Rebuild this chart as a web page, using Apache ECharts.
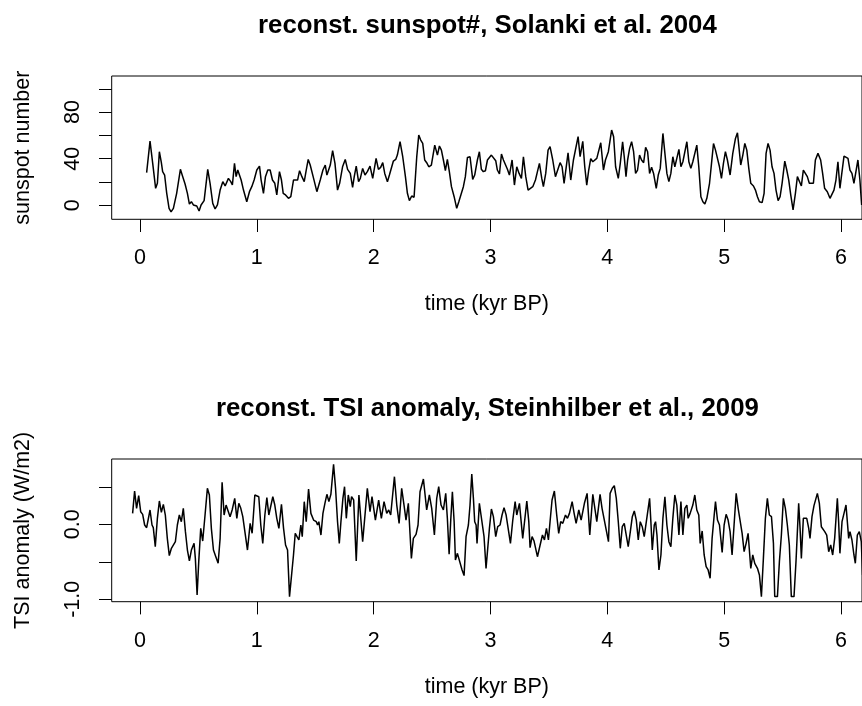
<!DOCTYPE html>
<html><head><meta charset="utf-8">
<script src="https://cdn.jsdelivr.net/npm/echarts@6/dist/echarts.min.js"></script>
<style>html,body{margin:0;padding:0;background:#fff}#c{width:862px;height:706px}</style>
</head><body><div id="c"></div>
<script>
const xTicks = [0, 1, 2, 3, 4, 5, 6];
const sunspotTicks = [0, 20, 40, 60, 80, 100];
const sunspotLabels = [0, 40, 80];
const tsiTicks = [-1, -0.5, 0, 0.5];
const tsiLabels = [-1, 0];
const titles = ['reconst. sunspot#, Solanki et al. 2004', 'reconst. TSI anomaly, Steinhilber et al., 2009'];

// [time (kyr BP), sunspot number]
const sunspot = [[0.057,28.0],[0.066,26.9],[0.086,55.1],[0.109,36.0],[0.134,14.6],[0.149,18.9],[0.166,46.0],[0.183,36.6],[0.194,28.9],[0.211,26.0],[0.229,10.3],[0.249,-2.6],[0.266,-5.7],[0.286,-2.6],[0.314,10.3],[0.346,30.9],[0.366,24.6],[0.386,18.3],[0.406,10.3],[0.423,1.1],[0.440,3.1],[0.457,0.3],[0.486,-0.6],[0.506,-4.9],[0.523,0.3],[0.549,4.0],[0.580,30.9],[0.600,18.9],[0.623,1.7],[0.643,-3.1],[0.663,0.3],[0.686,13.1],[0.709,20.3],[0.729,16.6],[0.757,23.1],[0.777,20.3],[0.791,17.4],[0.809,36.0],[0.823,24.6],[0.837,30.3],[0.851,30.9],[0.866,21.7],[0.886,13.1],[0.914,3.1],[0.937,11.7],[0.957,16.0],[0.977,21.7],[1.000,30.3],[1.023,33.7],[1.037,21.7],[1.057,10.3],[1.074,24.6],[1.094,30.3],[1.114,30.3],[1.134,21.7],[1.154,18.9],[1.171,8.9],[1.194,28.9],[1.211,21.7],[1.226,10.3],[1.246,8.9],[1.271,6.0],[1.291,7.4],[1.314,21.7],[1.331,23.1],[1.349,21.7],[1.366,29.7],[1.386,24.6],[1.406,20.3],[1.423,30.3],[1.440,39.4],[1.457,34.6],[1.486,23.1],[1.514,11.7],[1.543,21.7],[1.566,30.3],[1.586,34.6],[1.600,26.0],[1.617,24.6],[1.629,34.6],[1.649,46.9],[1.669,36.0],[1.691,13.1],[1.709,18.9],[1.734,33.1],[1.757,39.4],[1.777,30.9],[1.800,27.4],[1.820,15.4],[1.834,24.6],[1.851,33.7],[1.871,20.3],[1.886,23.1],
[1.906,31.7],[1.926,26.0],[1.946,28.9],[1.969,33.7],[1.992,23.1],[2.021,40.3],[2.041,30.9],[2.060,32.6],[2.078,36.6],[2.095,27.4],[2.118,20.3],[2.135,26.0],[2.152,24.6],[2.169,38.0],[2.189,39.4],[2.203,43.1],[2.226,54.6],[2.249,41.7],[2.272,24.6],[2.289,10.3],[2.306,4.0],[2.326,8.0],[2.346,6.9],[2.369,41.7],[2.386,60.3],[2.403,56.0],[2.420,53.1],[2.437,38.9],[2.454,36.6],[2.472,33.1],[2.494,34.6],[2.523,51.7],[2.546,43.1],[2.563,50.9],[2.580,47.4],[2.597,38.9],[2.614,29.7],[2.631,39.4],[2.648,28.9],[2.666,16.0],[2.689,7.4],[2.711,-2.6],[2.729,3.1],[2.746,1.7],[2.768,16.0],[2.785,24.6],[2.803,41.1],[2.825,41.7],[2.848,22.3],[2.865,26.0],[2.888,38.9],[2.905,46.0],[2.922,30.9],[2.939,28.9],[2.957,29.7],[2.974,38.9],[2.991,41.1],[3.008,43.1],[3.025,41.7],[3.045,38.3],[3.059,30.3],[3.077,26.9],[3.094,44.0],[3.111,38.9],[3.128,40.3],[3.145,30.9],[3.162,26.0],[3.185,38.9],[3.205,17.4],[3.225,33.1],[3.245,27.4],[3.265,23.1],[3.282,41.7],[3.302,24.6],[3.322,13.1],[3.339,13.1],[3.362,16.0],[3.385,21.7],[3.402,28.9],[3.419,36.0],[3.439,23.1],[3.453,16.0],[3.473,27.4],[3.493,47.4],[3.510,50.3],[3.533,38.9],[3.556,24.6],[3.573,26.0],[3.596,36.6],[3.613,33.1],[3.630,18.9],[3.647,31.7],[3.664,45.1],[3.687,21.7],[3.710,38.9],[3.727,38.9],[3.750,58.9],[3.767,41.7],[3.790,54.9],[3.807,33.1],[3.824,17.4],[3.841,30.3],[3.858,40.0],[3.876,37.4],[3.893,36.6],[3.910,40.3],[3.927,40.3],[3.944,53.7],[3.967,30.3],[3.984,38.9],
[4.009,46.0],[4.037,64.6],[4.054,58.9],[4.071,33.1],[4.094,23.1],[4.111,36.0],[4.131,54.6],[4.145,41.7],[4.160,24.6],[4.174,38.9],[4.191,48.9],[4.208,54.6],[4.225,46.0],[4.242,27.4],[4.259,30.3],[4.276,43.1],[4.293,38.9],[4.311,36.6],[4.328,49.7],[4.345,46.0],[4.362,27.4],[4.379,32.6],[4.396,27.4],[4.419,14.6],[4.436,26.0],[4.453,31.7],[4.476,61.7],[4.493,44.6],[4.510,27.4],[4.527,20.3],[4.544,27.4],[4.561,41.7],[4.578,33.1],[4.595,40.3],[4.613,48.0],[4.630,33.1],[4.647,37.4],[4.664,37.4],[4.681,54.6],[4.698,37.4],[4.715,31.7],[4.732,37.4],[4.749,38.9],[4.766,51.7],[4.783,33.1],[4.801,7.4],[4.818,3.1],[4.835,1.1],[4.852,6.0],[4.875,18.9],[4.892,36.0],[4.909,53.1],[4.926,47.4],[4.943,46.0],[4.960,33.1],[4.977,23.1],[4.994,36.0],[5.011,46.0],[5.028,38.9],[5.051,26.0],[5.074,44.6],[5.097,57.4],[5.114,62.3],[5.125,51.7],[5.142,34.6],[5.160,43.1],[5.177,53.1],[5.194,47.4],[5.211,31.7],[5.228,18.9],[5.251,16.6],[5.268,13.1],[5.285,7.4],[5.302,3.1],[5.325,2.3],[5.342,10.3],[5.359,44.6],[5.376,53.1],[5.393,47.4],[5.410,33.1],[5.427,27.4],[5.444,13.1],[5.462,4.0],[5.479,7.4],[5.496,18.9],[5.519,38.0],[5.536,30.3],[5.553,21.7],[5.570,8.9],[5.590,-4.0],[5.610,10.3],[5.627,24.6],[5.644,26.0],[5.661,16.6],[5.678,30.3],[5.695,31.7],[5.712,24.6],[5.729,18.9],[5.746,17.4],[5.764,18.9],[5.781,38.9],[5.803,44.6],[5.826,38.9],[5.843,27.4],[5.860,14.6],[5.883,11.7],[5.906,6.0],[5.923,7.4],[5.940,13.1],[5.957,21.7],[5.974,37.4],[5.991,14.6],[6.009,28.9],[6.026,42.3],[6.043,42.3],[6.060,40.3],[6.077,30.3],[6.094,27.4],[6.111,18.9],[6.128,17.4],[6.145,38.9],[6.162,21.7],[6.177,0.3]];

// [time (kyr BP), TSI anomaly (W/m2)]
const tsi = [[-0.063,0.146],[-0.046,0.444],[-0.029,0.213],[-0.011,0.382],[0.006,0.168],[0.023,0.133],[0.040,-0.009],[0.057,-0.045],[0.069,-0.032],[0.086,0.191],[0.103,-0.009],[0.114,-0.045],[0.131,-0.298],[0.149,0.080],[0.166,0.311],[0.183,0.160],[0.200,0.266],[0.217,0.124],[0.234,-0.187],[0.251,-0.418],[0.269,-0.320],[0.286,-0.329],[0.303,-0.232],[0.320,-0.009],[0.337,0.124],[0.354,0.035],[0.371,0.213],[0.389,-0.098],[0.406,-0.343],[0.423,-0.489],[0.440,-0.343],[0.463,-0.254],[0.474,-0.454],[0.489,-0.942],[0.503,-0.498],[0.520,-0.054],[0.537,-0.223],[0.557,0.124],[0.577,0.480],[0.594,0.391],[0.611,-0.054],[0.629,-0.343],[0.646,-0.418],[0.669,-0.520],[0.686,-0.187],[0.703,0.560],[0.720,0.124],[0.737,0.257],[0.754,0.257],[0.771,0.102],[0.789,0.191],[0.811,0.346],[0.829,0.080],[0.846,0.280],[0.863,0.213],[0.880,0.102],[0.897,0.080],[0.920,-0.343],[0.943,0.013],[0.960,-0.120],[0.983,0.391],[1.000,0.391],[1.017,0.368],[1.034,-0.009],[1.051,-0.254],[1.069,0.124],[1.086,0.355],[1.103,0.124],[1.120,0.146],[1.137,0.368],[1.154,0.257],[1.171,0.080],[1.189,-0.054],[1.211,0.266],[1.229,-0.054],[1.246,-0.276],[1.263,-0.343],[1.280,-0.964],[1.297,-0.964],[1.314,-0.409],[1.329,-0.120],[1.343,-0.107],[1.360,-0.209],[1.377,-0.009],[1.389,-0.165],[1.406,0.302],[1.423,0.035],[1.443,0.471],[1.463,0.146],[1.486,0.057],[1.509,0.035],[1.520,-0.009],[1.531,0.035],[1.549,-0.143],[1.566,0.146],[1.583,0.280],[1.600,0.400],[1.617,0.302],[1.634,0.400],[1.657,0.800],[1.674,0.480],[1.691,0.035],[1.706,-0.254],[1.720,0.035],[1.737,0.346],[1.751,0.502],[1.766,0.080],[1.783,0.391],[1.800,0.235],[1.811,0.368],[1.829,0.324],[1.851,-0.489],[1.874,0.391],[1.886,0.413],
[1.906,-0.232],[1.946,0.480],[1.969,0.168],[1.986,0.368],[2.015,0.057],[2.043,0.324],[2.066,0.080],[2.089,0.302],[2.112,0.146],[2.129,0.191],[2.146,0.124],[2.178,0.635],[2.198,0.257],[2.218,0.013],[2.240,0.480],[2.260,0.257],[2.277,0.057],[2.297,0.280],[2.312,-0.143],[2.323,-0.454],[2.340,-0.187],[2.363,-0.134],[2.380,-0.009],[2.397,0.435],[2.409,0.444],[2.426,0.604],[2.454,0.191],[2.477,0.391],[2.497,0.213],[2.520,-0.143],[2.540,0.346],[2.557,0.502],[2.577,0.257],[2.597,0.191],[2.617,0.413],[2.631,0.080],[2.646,-0.400],[2.660,0.057],[2.674,0.435],[2.689,0.035],[2.700,-0.476],[2.717,-0.387],[2.734,-0.400],[2.757,-0.609],[2.774,-0.684],[2.791,-0.165],[2.811,-0.009],[2.825,0.257],[2.840,0.671],[2.854,0.346],[2.865,0.035],[2.877,-0.009],[2.885,-0.254],[2.905,0.280],[2.919,0.124],[2.931,0.124],[2.945,-0.165],[2.962,-0.587],[2.971,-0.596],[2.991,-0.054],[3.008,0.204],[3.025,0.102],[3.045,-0.165],[3.062,-0.032],[3.082,-0.009],[3.099,0.124],[3.116,0.222],[3.134,0.124],[3.145,0.102],[3.171,-0.254],[3.191,0.057],[3.211,0.302],[3.225,0.124],[3.248,0.280],[3.276,-0.187],[3.311,0.311],[3.328,0.035],[3.339,-0.311],[3.356,-0.165],[3.373,-0.223],[3.402,-0.432],[3.425,-0.276],[3.445,-0.143],[3.462,-0.209],[3.479,-0.054],[3.496,-0.209],[3.510,0.035],[3.527,0.324],[3.547,0.444],[3.567,0.124],[3.584,-0.120],[3.601,0.035],[3.619,0.013],[3.642,0.124],[3.659,0.080],[3.676,0.146],[3.699,0.302],[3.716,0.146],[3.733,0.013],[3.756,0.191],[3.776,0.057],[3.804,0.280],[3.827,0.413],[3.850,-0.143],[3.876,0.400],[3.910,0.035],[3.938,0.400],[3.955,0.213],[3.972,0.191],[4.010,-0.232],[4.024,0.413],
[4.043,0.480],[4.060,0.515],[4.077,0.346],[4.094,0.035],[4.111,-0.320],[4.128,-0.032],[4.145,0.013],[4.162,-0.143],[4.179,-0.298],[4.197,-0.098],[4.214,0.102],[4.231,0.178],[4.248,0.057],[4.265,-0.209],[4.282,0.035],[4.299,-0.032],[4.316,-0.165],[4.333,-0.165],[4.362,0.346],[4.373,0.035],[4.385,-0.343],[4.402,-0.009],[4.413,0.035],[4.425,-0.143],[4.442,-0.609],[4.459,-0.409],[4.476,0.080],[4.493,0.368],[4.510,-0.009],[4.527,-0.232],[4.544,-0.298],[4.561,0.080],[4.578,0.391],[4.595,0.257],[4.613,-0.143],[4.630,0.302],[4.647,-0.143],[4.664,0.213],[4.681,0.257],[4.692,0.080],[4.709,0.146],[4.732,0.257],[4.749,0.391],[4.766,0.191],[4.783,0.124],[4.795,-0.254],[4.812,-0.089],[4.829,-0.409],[4.846,-0.565],[4.863,-0.609],[4.880,-0.720],[4.897,-0.187],[4.915,0.124],[4.926,0.302],[4.943,0.057],[4.960,-0.009],[4.983,-0.374],[5.000,-0.009],[5.017,0.133],[5.034,0.057],[5.051,-0.098],[5.068,-0.409],[5.085,-0.009],[5.103,0.413],[5.120,0.213],[5.137,0.235],[5.154,-0.120],[5.171,-0.365],[5.188,-0.254],[5.205,-0.120],[5.228,-0.587],[5.245,-0.409],[5.262,-0.520],[5.285,-0.587],[5.302,-0.676],[5.319,-0.964],[5.336,-0.454],[5.353,0.080],[5.370,0.346],[5.387,0.124],[5.405,0.102],[5.422,-0.254],[5.433,-0.964],[5.456,-0.964],[5.473,-0.498],[5.490,-0.143],[5.507,0.346],[5.524,0.213],[5.541,-0.009],[5.558,-0.276],[5.575,-0.964],[5.598,-0.964],[5.615,-0.498],[5.638,0.280],[5.650,-0.054],[5.661,-0.454],[5.678,0.080],[5.695,0.057],[5.707,0.080],[5.724,-0.054],[5.735,-0.187],[5.752,0.102],[5.769,0.249],[5.786,0.266],[5.798,0.413],[5.815,0.280],[5.832,-0.032],[5.849,-0.032],[5.861,-0.098],[5.878,-0.143],[5.895,-0.365],[5.912,-0.276],[5.929,-0.409],[5.946,-0.187],[5.969,0.346],[5.980,0.035],[5.991,-0.387],[6.009,0.035],[6.026,0.146],[6.043,0.257],[6.066,-0.187],[6.077,-0.098],[6.094,-0.209],[6.111,-0.409],[6.123,-0.520],[6.140,-0.143],[6.157,-0.098],[6.174,-0.232],[6.185,-0.676]];

const FONT = 'Liberation Sans, Arial, sans-serif';
const FS = 21.5;
const txt = {fontFamily: FONT, fontSize: FS, color: '#000'};

function xAxisOpt(gi) {
  return {
    type: 'value', gridIndex: gi, min: -0.242, max: 6.18,
    name: 'time (kyr BP)', nameLocation: 'middle', nameGap: 74,
    nameTextStyle: txt,
    axisLine: {show: false, onZero: false},
    axisTick: {show: true, inside: false, length: 12.7, customValues: xTicks, lineStyle: {color: '#000', width: 1}},
    axisLabel: Object.assign({show: true, margin: 28, customValues: xTicks}, txt),
    splitLine: {show: false}
  };
}
function yAxisOpt(gi, min, max, name, ticks, labels, fmt, gap) {
  return {
    type: 'value', gridIndex: gi, min: min, max: max,
    name: name, nameLocation: 'middle', nameGap: gap,
    nameTextStyle: txt,
    axisLine: {show: false, onZero: false},
    axisTick: {show: true, inside: false, length: 12.7, customValues: ticks, lineStyle: {color: '#000', width: 1}},
    axisLabel: Object.assign({show: true, margin: 28, rotate: 90, customValues: labels, formatter: fmt}, txt),
    splitLine: {show: false}
  };
}

const chart = echarts.init(document.getElementById('c'), null, {renderer: 'canvas'});
chart.setOption({
  animation: false,
  backgroundColor: '#fff',
  title: [
    {text: titles[0], left: 487.4, top: 13, textAlign: 'center', padding: 0,
     textStyle: {fontFamily: FONT, fontSize: 25.8, fontWeight: 'bold', color: '#000'}},
    {text: titles[1], left: 487.4, top: 395.7, textAlign: 'center', padding: 0,
     textStyle: {fontFamily: FONT, fontSize: 25.8, fontWeight: 'bold', color: '#000'}}
  ],
  grid: [
    {left: 111.7, top: 76, width: 751.3, height: 143.3, show: true, borderColor: '#000', borderWidth: 1, backgroundColor: 'transparent'},
    {left: 111.7, top: 459, width: 751.3, height: 142.7, show: true, borderColor: '#000', borderWidth: 1, backgroundColor: 'transparent'}
  ],
  xAxis: [xAxisOpt(0), xAxisOpt(1)],
  yAxis: [
    yAxisOpt(0, -12, 111, 'sunspot number', sunspotTicks, sunspotLabels, v => String(v), 78),
    yAxisOpt(1, -1.032, 0.871, 'TSI anomaly (W/m2)', tsiTicks, tsiLabels, v => Number(v).toFixed(1), 78)
  ],
  series: [
    {type: 'line', xAxisIndex: 0, yAxisIndex: 0, data: sunspot, showSymbol: false, symbol: 'none',
     lineStyle: {color: '#000', width: 1.5}, silent: true},
    {type: 'line', xAxisIndex: 1, yAxisIndex: 1, data: tsi, showSymbol: false, symbol: 'none',
     lineStyle: {color: '#000', width: 1.5}, silent: true}
  ]
});
</script></body></html>
